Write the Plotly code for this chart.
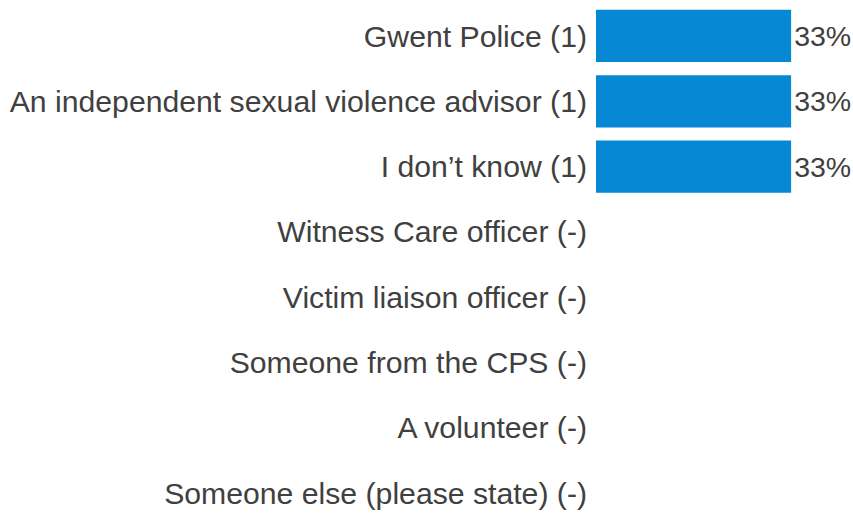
import plotly.graph_objects as go

categories = [
    "Gwent Police (1)",
    "An independent sexual violence advisor (1)",
    "I don\u2019t know (1)",
    "Witness Care officer (-)",
    "Victim liaison officer (-)",
    "Someone from the CPS (-)",
    "A volunteer (-)",
    "Someone else (please state) (-)",
]
values = [33.33, 33.33, 33.33, 0, 0, 0, 0, 0]
value_labels = ["33%", "33%", "33%", "", "", "", "", ""]

TEXT = "#404040"
FONT = "Liberation Sans, Arial, sans-serif"

fig = go.Figure(
    go.Bar(
        x=values,
        y=categories,
        orientation="h",
        marker=dict(color="#0788D4", line=dict(width=0)),
        text=value_labels,
        textposition="outside",
        constraintext="none",
        textfont=dict(family=FONT, size=28.5, color=TEXT),
        cliponaxis=False,
        width=0.8,
        hoverinfo="skip",
    )
)

fig.update_layout(
    width=853,
    height=513,
    margin=dict(l=596, r=0, t=0, b=0, autoexpand=False),
    paper_bgcolor="white",
    plot_bgcolor="white",
    showlegend=False,
    font=dict(family=FONT, color=TEXT),
)
fig.update_xaxes(
    range=[0, 43.9],
    visible=False,
    fixedrange=True,
)
fig.update_yaxes(
    categoryorder="array",
    categoryarray=categories,
    range=[7.306, -0.551],
    showgrid=False,
    zeroline=False,
    showline=False,
    ticks="",
    tickfont=dict(family=FONT, size=30.2, color=TEXT),
    ticklabelstandoff=8,
    automargin=False,
    fixedrange=True,
)

fig.write_html(
    "out.html",
    config={"displayModeBar": False, "staticPlot": True},
    post_script="document.body.style.margin='0';document.body.style.overflow='hidden';",
)
